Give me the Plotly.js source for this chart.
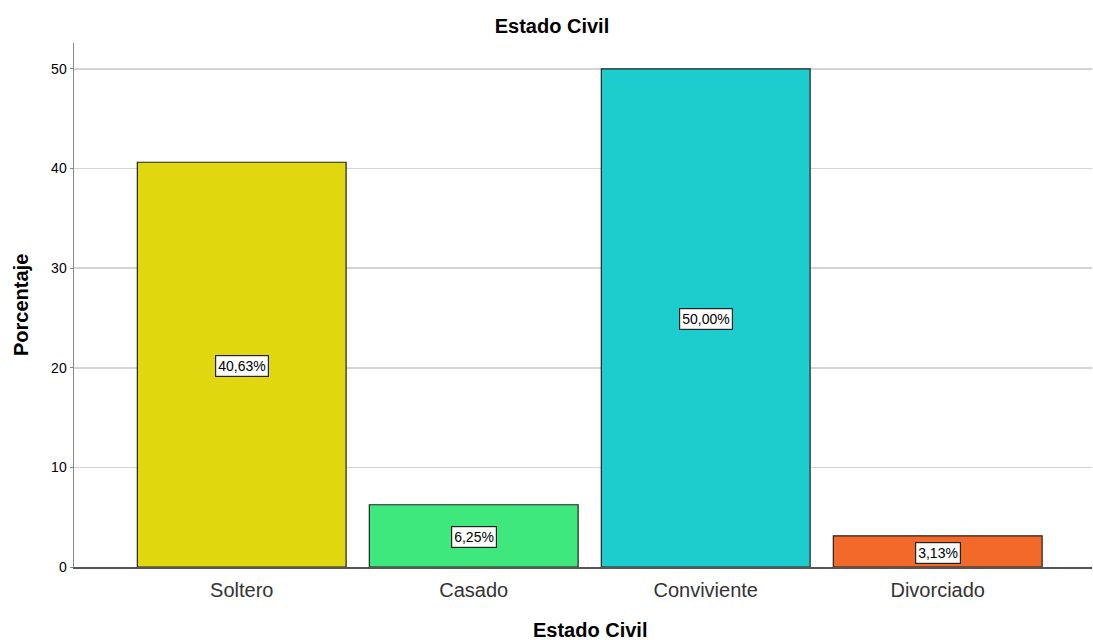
<!DOCTYPE html>
<html><head><meta charset="utf-8">
<script src="https://cdn.plot.ly/plotly-3.0.1.min.js"></script>
<style>html,body{margin:0;padding:0;background:#fff}#chart{width:1093px;height:640px}</style>
</head><body><div id="chart"></div>
<script>
const categories = ["Soltero", "Casado", "Conviviente", "Divorciado"];
const values = [40.63, 6.25, 50.00, 3.13];
const labels = ["40,63%", "6,25%", "50,00%", "3,13%"];
const colors = ["#E1D70F", "#3FE87D", "#1DCDCD", "#F3692A"];
const yTicks = [0, 10, 20, 30, 40, 50];

const FONT = "Liberation Sans, Arial, sans-serif";

const trace = {
  type: "bar",
  x: categories,
  y: values,
  width: 0.9,
  marker: {color: colors, line: {color: "#222222", width: 1.2}},
  hoverinfo: "none"
};

const annotations = categories.map((c, i) => ({
  x: c, y: values[i] / 2, xref: "x", yref: "y", yshift: -1.5,
  text: labels[i], showarrow: false,
  font: {family: FONT, size: 14, color: "#000"},
  bgcolor: "#ffffff", bordercolor: "#222222", borderwidth: 1.2, borderpad: 2
}));
annotations.push({
  xref: "paper", yref: "paper", x: (590 - 74) / 1018, y: (567 - 630) / 524, yanchor: "middle",
  text: "<b>Estado Civil</b>", showarrow: false,
  font: {family: FONT, size: 20, color: "#000"}
});
annotations.push({
  xref: "paper", yref: "paper", x: (21 - 74) / 1018, y: (567 - 305) / 524, xanchor: "center", yanchor: "middle",
  text: "<b>Porcentaje</b>", showarrow: false, textangle: -90,
  font: {family: FONT, size: 20, color: "#000"}
});

const layout = {
  width: 1093, height: 640,
  margin: {l: 74, r: 1, t: 43, b: 73},
  paper_bgcolor: "#ffffff", plot_bgcolor: "#ffffff",
  title: {text: "<b>Estado Civil</b>", x: 552 / 1093, xref: "container", xanchor: "center",
          y: 1 - 26 / 640, yref: "container", yanchor: "middle",
          font: {family: FONT, size: 20, color: "#000"}},
  xaxis: {
    type: "category", range: [-0.723, 3.665],
    showline: true, linecolor: "#555555", linewidth: 1.5,
    showgrid: false, ticks: "", zeroline: false, ticklabelstandoff: 4,
    tickfont: {family: FONT, size: 20, color: "#333"}
  },
  yaxis: {
    range: [0, 52.6], tickvals: yTicks, ticktext: yTicks.map(String),
    showline: true, linecolor: "#888888", linewidth: 1.5,
    showgrid: true, gridcolor: "#d4d4d4", gridwidth: 1.5,
    zeroline: false, ticks: "outside", ticklen: 3, tickcolor: "#888888",
    tickfont: {family: FONT, size: 14, color: "#000"}
  },
  annotations: annotations,
  showlegend: false
};

Plotly.newPlot("chart", [trace], layout, {displayModeBar: false, staticPlot: true});
</script>
</body></html>
